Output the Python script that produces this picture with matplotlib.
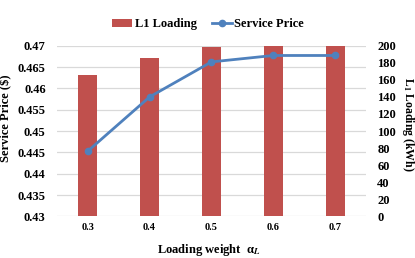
import matplotlib.pyplot as plt

weights = ["0.3", "0.4", "0.5", "0.6", "0.7"]
loading = [166, 186, 198, 201, 201]
price = [0.4453, 0.4580, 0.4662, 0.4677, 0.4677]
price_ticks = ["0.43", "0.435", "0.44", "0.445", "0.45", "0.455", "0.46", "0.465", "0.47"]

plt.rcParams["font.family"] = "Liberation Serif"
plt.rcParams["font.weight"] = "bold"
plt.rcParams["mathtext.fontset"] = "stix"

fig = plt.figure(figsize=(4.15, 2.58), dpi=100)
ax = fig.add_axes([0.137, 0.161, 0.745, 0.662])
ax2 = ax.twinx()

x = list(range(len(weights)))

# bars on the right axis (kWh)
bars = ax2.bar(x, loading, width=0.31, color="#C0504D", zorder=2)
ax2.set_ylim(0, 200)
ax2.set_yticks(range(0, 201, 20))

# price line on the left axis, drawn over the bars
ax.set_zorder(ax2.get_zorder() + 1)
ax.patch.set_visible(False)
line, = ax.plot(x, price, color="#4F81BD", lw=2, marker="o", ms=4.5)
ax.set_ylim(0.43, 0.47)
ax.set_yticks([float(t) for t in price_ticks])
ax.set_yticklabels(price_ticks)
ax.set_xlim(-0.5, 4.5)
ax.set_xticks(x)
ax.set_xticklabels(weights)

# gridlines follow the left axis ticks
for t in price_ticks:
    ax2.axhline((float(t) - 0.43) / 0.04 * 200, color="#D9D9D9", lw=0.9, zorder=0)

for a in (ax, ax2):
    for s in a.spines.values():
        s.set_visible(False)
    a.tick_params(length=0, labelsize=9, pad=8)
ax.tick_params(axis="x", labelsize=7.5, pad=5)

fig.text(6 / 415, 1 - 118 / 258, "Service Price ($)", rotation=90, ha="center", va="center",
         fontsize=9, fontweight="bold")
fig.text(408 / 415, 1 - 124 / 258, r"L$_\mathbf{1}$ Loading (kWh)", rotation=270, ha="center",
         va="center", fontsize=8.5, fontweight="bold")
fig.text(209 / 415, 1 - 250 / 258, "Loading weight  α$_L$", ha="center", va="center",
         fontsize=9, fontweight="bold")

fig.legend([bars, line], ["L1 Loading", "Service Price"], loc="center", bbox_to_anchor=(208 / 415, 1 - 24 / 258),
           ncol=2, frameon=False, fontsize=9, handlelength=1.6, handleheight=0.6, columnspacing=1.2,
           handletextpad=0.2, borderpad=0)

fig.savefig("out.png", dpi=100)
